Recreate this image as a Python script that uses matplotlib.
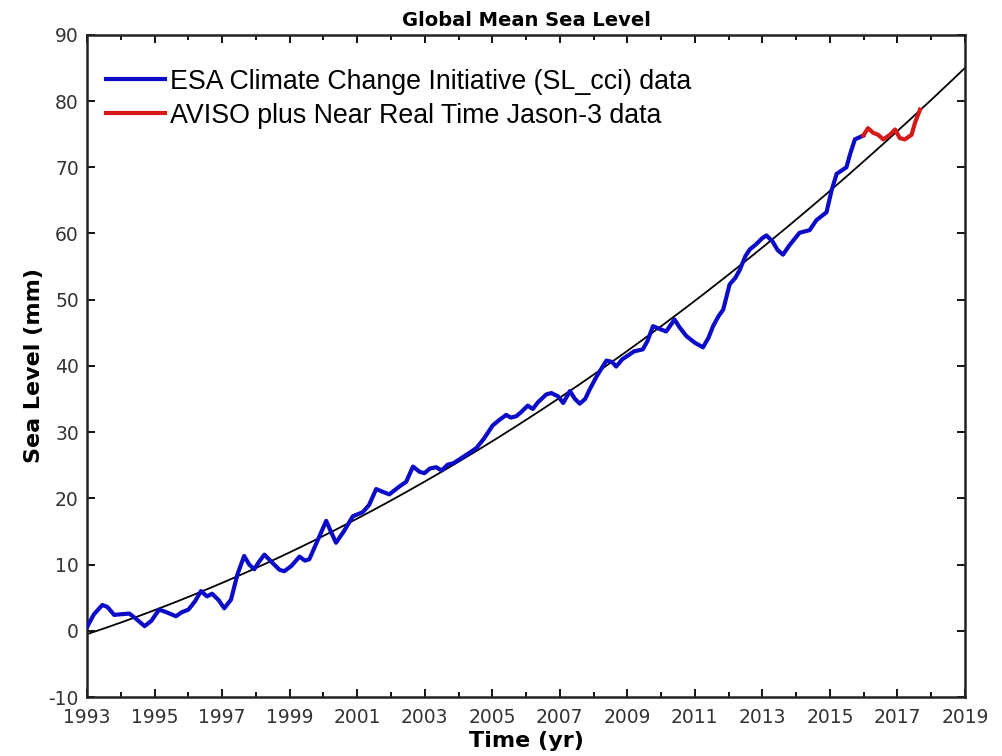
import numpy as np
import matplotlib
matplotlib.use("Agg")
import matplotlib.pyplot as plt
from matplotlib.ticker import MultipleLocator, FixedLocator

plt.rcParams["axes.unicode_minus"] = False

# ESA SL_cci global mean sea level (mm)
cci_year = [1993.0, 1993.2, 1993.45, 1993.6, 1993.8, 1994.0, 1994.25, 1994.45, 1994.7, 1994.9,
            1995.13, 1995.35, 1995.63, 1995.8, 1996.0, 1996.2, 1996.37, 1996.55, 1996.7, 1996.9,
            1997.06, 1997.26, 1997.45, 1997.65, 1997.8, 1997.95, 1998.1, 1998.25, 1998.5, 1998.7,
            1998.84, 1999.05, 1999.29, 1999.45, 1999.58, 1999.83, 2000.08, 2000.2, 2000.37, 2000.6,
            2000.87, 2001.16, 2001.35, 2001.56, 2001.75, 2001.95, 2002.25, 2002.45, 2002.65, 2002.85,
            2002.99, 2003.15, 2003.34, 2003.5, 2003.68, 2003.85, 2004.03, 2004.3, 2004.53, 2004.75,
            2005.01, 2005.2, 2005.41, 2005.55, 2005.71, 2005.85, 2006.05, 2006.2, 2006.35, 2006.6,
            2006.75, 2006.95, 2007.1, 2007.3, 2007.45, 2007.59, 2007.75, 2007.88, 2008.1, 2008.38,
            2008.55, 2008.67, 2008.85, 2008.97, 2009.2, 2009.46, 2009.6, 2009.76, 2009.95, 2010.15,
            2010.4, 2010.55, 2010.75, 2011.0, 2011.24, 2011.4, 2011.54, 2011.7, 2011.84, 2012.03,
            2012.2, 2012.33, 2012.5, 2012.63, 2012.8, 2013.0, 2013.12, 2013.3, 2013.45, 2013.61,
            2013.8, 2014.1, 2014.4, 2014.6, 2014.9, 2015.05, 2015.2, 2015.49, 2015.6, 2015.74,
            2015.99]
cci_gmsl = [0.6, 2.5, 3.9, 3.6, 2.4, 2.5, 2.6, 1.8, 0.7, 1.5,
            3.2, 2.8, 2.2, 2.8, 3.2, 4.5, 6.0, 5.2, 5.6, 4.6,
            3.4, 4.7, 8.5, 11.3, 10.0, 9.3, 10.5, 11.5, 10.2, 9.2,
            9.0, 9.8, 11.2, 10.6, 10.8, 13.7, 16.6, 15.2, 13.3, 15.0,
            17.3, 17.9, 19.0, 21.4, 21.0, 20.6, 21.8, 22.5, 24.8, 24.0,
            23.8, 24.5, 24.7, 24.2, 25.1, 25.3, 25.9, 26.8, 27.6, 29.0,
            31.0, 31.8, 32.6, 32.2, 32.4, 33.0, 34.0, 33.5, 34.5, 35.7,
            35.9, 35.4, 34.4, 36.2, 35.0, 34.3, 35.0, 36.4, 38.5, 40.8,
            40.6, 39.9, 41.0, 41.4, 42.2, 42.5, 43.8, 46.0, 45.6, 45.2,
            47.0, 45.8, 44.5, 43.5, 42.8, 44.2, 46.0, 47.5, 48.5, 52.3,
            53.3, 54.5, 56.6, 57.6, 58.3, 59.3, 59.7, 58.8, 57.5, 56.8,
            58.2, 60.1, 60.5, 62.0, 63.2, 66.5, 69.0, 70.0, 72.0, 74.2,
            74.8]

# AVISO NRT Jason-3 extension
nrt_year = [2015.99, 2016.13, 2016.28, 2016.43, 2016.58, 2016.78, 2016.93, 2017.07,
            2017.22, 2017.42, 2017.52, 2017.67]
nrt_gmsl = [74.8, 75.9, 75.2, 74.9, 74.2, 74.9, 75.7, 74.4, 74.2, 74.9, 76.7, 78.7]

# quadratic trend, coefficients in (year - 1993)
trend_coef = [-0.5, 1.689, 0.0615]
year0 = 1993

year_ticks = list(range(1993, 2020, 2))

fig = plt.figure(figsize=(10.02, 7.56), dpi=100)
ax = fig.add_axes([0.087, 0.078, 0.876, 0.876])

t = np.linspace(1993, 2019, 300)
trend = np.polyval(trend_coef[::-1], t - year0)
ax.plot(t, trend, color="black", lw=1.3, zorder=2)
ax.plot(cci_year, cci_gmsl, color="#0c0cc8", lw=3.0, solid_joinstyle="round",
        label="ESA Climate Change Initiative (SL_cci) data", zorder=3)
ax.plot(nrt_year, nrt_gmsl, color="#d61818", lw=3.0, solid_joinstyle="round",
        label="AVISO plus Near Real Time Jason-3 data", zorder=3)

ax.set_xlim(1993, 2019)
ax.set_ylim(-10, 90)
ax.xaxis.set_major_locator(FixedLocator(year_ticks))
ax.xaxis.set_minor_locator(MultipleLocator(1))
ax.yaxis.set_major_locator(MultipleLocator(10))
ax.tick_params(which="both", direction="in", top=True, right=True,
               labelsize=13.5, labelcolor="#333333", width=1.3)
ax.tick_params(axis="x", pad=8)
ax.tick_params(axis="y", pad=6)
ax.tick_params(which="major", length=6)
ax.tick_params(which="minor", length=3.5)
for s in ax.spines.values():
    s.set_linewidth(1.8)
    s.set_color("#222222")

ax.set_title("Global Mean Sea Level", fontsize=14, fontweight="bold", pad=6)
ax.set_xlabel("Time (yr)", fontsize=16, fontweight="bold", labelpad=3)
ax.set_ylabel("Sea Level (mm)", fontsize=16, fontweight="bold", labelpad=3)

leg = ax.legend(loc="upper left", bbox_to_anchor=(0.0, 0.977), frameon=False,
                prop={"family": "Liberation Sans", "size": 19.3},
                handlelength=2.2, handletextpad=0.2, labelspacing=0.3,
                borderaxespad=0.3)

fig.savefig("out.png", dpi=100, facecolor="white")
